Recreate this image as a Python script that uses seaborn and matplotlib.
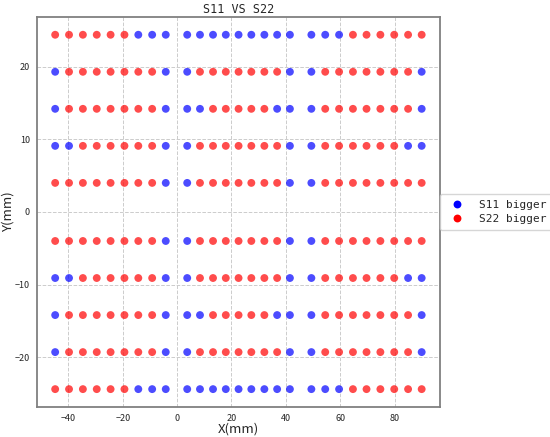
import matplotlib
matplotlib.use("Agg")
from matplotlib import pyplot as plt
import seaborn as sns
import pandas as pd

# column positions (mm), three groups of nine
x_pos = [-44.9, -39.8, -34.7, -29.6, -24.5, -19.4, -14.3, -9.2, -4.2,
         3.7, 8.4, 13.2, 17.9, 22.6, 27.3, 32.1, 36.8, 41.5,
         49.4, 54.5, 59.6, 64.7, 69.7, 74.8, 79.9, 85.0, 90.0]
# row positions (mm)
y_pos = [24.4, 19.3, 14.2, 9.1, 4.0, -4.0, -9.1, -14.2, -19.3, -24.4]
# B = S11 bigger, R = S22 bigger (one string per row, top to bottom)
row_flags = [
    "RRRRRRBBB" + "BBBBBBBBB" + "BBBRRRRRR",
    "BRRRRRRRB" + "BRRRRRRRB" + "BRRRRRRRB",
    "BRRRRRRRB" + "BBRRRRRBB" + "BRRRRRRRB",
    "BBRRRRRRB" + "BRRRRRRRB" + "BRRRRRRBB",
    "RRRRRRRRB" + "BRRRRRRRB" + "BRRRRRRRR",
    "RRRRRRRRB" + "BRRRRRRRB" + "BRRRRRRRR",
    "BBRRRRRRB" + "BRRRRRRRB" + "BRRRRRRBB",
    "BRRRRRRRB" + "BBRRRRRBB" + "BRRRRRRRB",
    "BRRRRRRRB" + "BRRRRRRRB" + "BRRRRRRRB",
    "RRRRRRBBB" + "BBBBBBBBB" + "BBBRRRRRR",
]
labels = {"B": "S11 bigger", "R": "S22 bigger"}

rows = []
for y, flags in zip(y_pos, row_flags):
    for x, f in zip(x_pos, flags):
        rows.append({"X": x, "Y": y, "kind": labels[f]})
df = pd.DataFrame(rows)

sns.set_style("white")
plt.rcParams["font.family"] = ["Noto Sans CJK SC", "DejaVu Sans"]
mono = ["DejaVu Sans Mono", "Noto Sans CJK SC"]

fig = plt.figure(figsize=(5.5, 4.37), dpi=100)
ax = fig.add_axes([0.067, 0.069, 0.733, 0.892])

sns.scatterplot(data=df, x="X", y="Y", hue="kind",
                hue_order=["S11 bigger", "S22 bigger"],
                palette={"S11 bigger": "blue", "S22 bigger": "red"},
                s=32, alpha=0.7, linewidth=0, ax=ax)

ax.set_xticks([-40, -20, 0, 20, 40, 60, 80])
ax.set_yticks([-20, -10, 0, 10, 20])
ax.grid(True, linestyle="--", color="#cccccc", linewidth=0.7)
ax.set_axisbelow(True)
ax.tick_params(axis="both", labelsize=6.5, length=3, width=0.8,
               color="#555555", pad=2)
for sp in ax.spines.values():
    sp.set_color("#808080")
    sp.set_linewidth(1.3)

ax.set_title("S11 VS S22", fontsize=8.5, pad=3, family=mono)
ax.set_xlabel("X(mm)", fontsize=9.5, labelpad=0)
ax.set_ylabel("Y(mm)", fontsize=9.5, labelpad=0)

leg = ax.legend(loc="center left", bbox_to_anchor=(1.0, 0.5),
                prop={"family": mono, "size": 8},
                handletextpad=1.0, borderpad=0.5, labelspacing=0.4,
                borderaxespad=0, frameon=True)
for h in leg.legend_handles:
    h.set_alpha(1)

fig.savefig("out.png", dpi=100)
